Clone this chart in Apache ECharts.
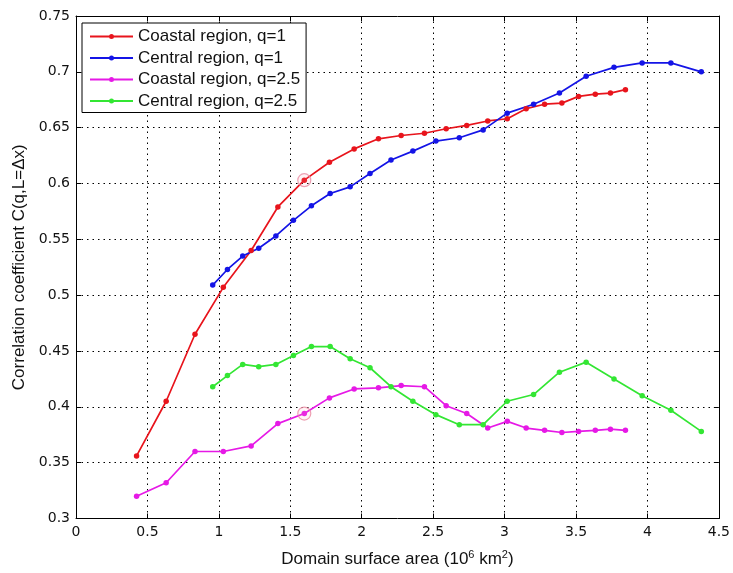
<!DOCTYPE html>
<html><head><meta charset="utf-8">
<script src="https://cdn.jsdelivr.net/npm/echarts@6/dist/echarts.min.js"></script>
<style>html,body{margin:0;padding:0;background:#fff}#c{width:733px;height:573px}</style>
</head><body><div id="c"></div>
<script>
const coastalX = [0.424,0.631,0.833,1.031,1.226,1.413,1.598,1.774,1.947,2.117,2.276,2.439,2.591,2.735,2.882,3.019,3.151,3.280,3.401,3.518,3.635,3.741,3.846];
const centralX = [0.957,1.060,1.167,1.279,1.399,1.522,1.648,1.779,1.919,2.058,2.205,2.358,2.519,2.683,2.850,3.018,3.203,3.384,3.571,3.766,3.963,4.164,4.377];
const coastalQ1 = [0.356,0.405,0.465,0.507,0.540,0.579,0.603,0.619,0.631,0.640,0.643,0.645,0.649,0.652,0.656,0.658,0.667,0.671,0.672,0.678,0.680,0.681,0.684];
const centralQ1 = [0.509,0.523,0.535,0.542,0.553,0.567,0.580,0.591,0.597,0.609,0.621,0.629,0.638,0.641,0.648,0.663,0.671,0.681,0.696,0.704,0.708,0.708,0.700];
const coastalQ25 = [0.320,0.332,0.360,0.360,0.365,0.385,0.394,0.408,0.416,0.417,0.419,0.418,0.401,0.394,0.381,0.387,0.381,0.379,0.377,0.378,0.379,0.380,0.379];
const centralQ25 = [0.418,0.428,0.438,0.436,0.438,0.446,0.454,0.454,0.443,0.435,0.418,0.405,0.393,0.384,0.384,0.405,0.411,0.431,0.440,0.425,0.410,0.397,0.378];
const highlightX = [1.598, 1.598];
const highlightY = [0.603, 0.394];
const seriesNames = ['Coastal region, q=1','Central region, q=1','Coastal region, q=2.5','Central region, q=2.5'];
const seriesColors = ['#e8141c','#1414e6','#e619e6','#33e633'];

const zip = (xs, ys) => xs.map((x, i) => [x, ys[i]]);
const FONT = 'Liberation Sans';
const TICKFONT = 'DejaVu Sans';
const chart = echarts.init(document.getElementById('c'), null, {renderer: 'canvas'});
const dataSets = [zip(coastalX, coastalQ1), zip(centralX, centralQ1), zip(coastalX, coastalQ25), zip(centralX, centralQ25)];
const series = dataSets.map((d, i) => ({
  name: seriesNames[i], type: 'line', data: d, xAxisIndex: 0, yAxisIndex: 0,
  symbol: 'circle', symbolSize: 5.5, showSymbol: true,
  lineStyle: {color: seriesColors[i], width: 1.7},
  itemStyle: {color: seriesColors[i]},
  emphasis: {disabled: true}, animation: false, z: 3
}));
series.push({
  type: 'scatter', data: zip(highlightX, highlightY), symbol: 'circle', symbolSize: 13,
  itemStyle: {color: 'rgba(255,160,180,0.15)', borderColor: '#e98aa0', borderWidth: 1.2}, z: 4, silent: true, animation: false
});
const gridLine = {show: true, lineStyle: {color: '#000', type: [1.5, 4], width: 1}};
const legendIcon = 'path://M0,1.6 L43,1.6 L43,3.4 L0,3.4 Z M19,2.5 A2.5,2.5 0 1 1 24,2.5 A2.5,2.5 0 1 1 19,2.5 Z';
chart.setOption({
  backgroundColor: '#fff',
  textStyle: {fontFamily: FONT},
  grid: {left: 76, right: 14, top: 16, bottom: 49, containLabel: false},
  legend: {
    data: seriesNames.map(n => ({name: n, icon: legendIcon})), orient: 'vertical', left: 82, top: 23,
    backgroundColor: '#fff', borderColor: '#000', borderWidth: 1,
    padding: [5, 6, 3, 8], itemGap: 4.5, itemWidth: 43, itemHeight: 5,
    textStyle: {fontFamily: FONT, fontSize: 17, lineHeight: 16, color: '#111'},
    selectedMode: false
  },
  xAxis: [{
    type: 'value', min: 0, max: 4.5, interval: 0.5, position: 'bottom',
    axisLine: {show: true, onZero: false, lineStyle: {color: '#000', width: 1}},
    axisTick: {show: true, inside: true, length: 5, lineStyle: {color: '#000'}},
    axisLabel: {color: '#111', fontSize: 14, fontFamily: TICKFONT, margin: 7},
    splitLine: gridLine,
    name: 'Domain surface area (10{sup|6} km{sup|2})', nameLocation: 'middle', nameGap: 31,
    nameTextStyle: {color: '#111', fontSize: 17, fontFamily: FONT,
      rich: {sup: {fontSize: 11, verticalAlign: 'top', padding: [0,0,9,0], fontFamily: FONT, color: '#111'}}}
  }, {
    type: 'value', min: 0, max: 4.5, interval: 0.5, position: 'top',
    axisLine: {show: true, onZero: false, lineStyle: {color: '#000', width: 1}},
    axisTick: {show: true, inside: true, length: 5, lineStyle: {color: '#000'}},
    axisLabel: {show: false}, splitLine: {show: false}
  }],
  yAxis: [{
    type: 'value', min: 0.3, max: 0.75, interval: 0.05, position: 'left',
    axisLine: {show: true, onZero: false, lineStyle: {color: '#000', width: 1}},
    axisTick: {show: true, inside: true, length: 5, lineStyle: {color: '#000'}},
    axisLabel: {color: '#111', fontSize: 14, fontFamily: TICKFONT, margin: 6,
      formatter: v => String(Math.round(v * 100) / 100)},
    splitLine: gridLine,
    name: 'Correlation coefficient C(q,L=Δx)', nameLocation: 'middle', nameGap: 46, nameRotate: 90,
    nameTextStyle: {color: '#111', fontSize: 17, fontFamily: FONT}
  }, {
    type: 'value', min: 0.3, max: 0.75, interval: 0.05, position: 'right',
    axisLine: {show: true, onZero: false, lineStyle: {color: '#000', width: 1}},
    axisTick: {show: true, inside: true, length: 5, lineStyle: {color: '#000'}},
    axisLabel: {show: false}, splitLine: {show: false}
  }],
  series: series
});
</script></body></html>
